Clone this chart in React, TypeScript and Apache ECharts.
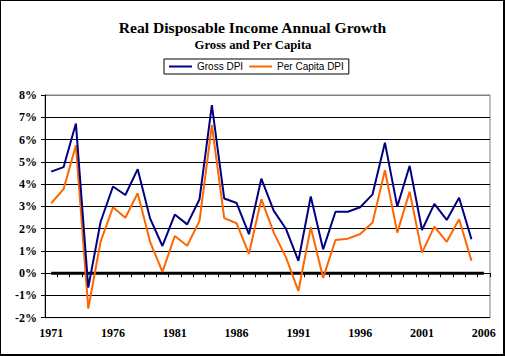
import React, { useEffect, useRef } from "react";
import * as echarts from "echarts";

const years = [
  "1971", "1972", "1973", "1974", "1975", "1976", "1977", "1978", "1979", "1980",
  "1981", "1982", "1983", "1984", "1985", "1986", "1987", "1988", "1989", "1990",
  "1991", "1992", "1993", "1994", "1995", "1996", "1997", "1998", "1999", "2000",
  "2001", "2002", "2003", "2004", "2005", "2006",
];

const grossDPI = [
  4.56, 4.76, 6.72, -0.65, 2.31, 3.89, 3.51, 4.67, 2.46, 1.22,
  2.63, 2.19, 3.32, 7.55, 3.35, 3.15, 1.75, 4.24, 2.81, 1.98,
  0.55, 3.44, 1.07, 2.76, 2.76, 2.96, 3.54, 5.86, 2.99, 4.82,
  1.94, 3.11, 2.39, 3.39, 1.52, null,
];

const perCapitaDPI = [
  3.14, 3.77, 5.74, -1.59, 1.42, 2.96, 2.49, 3.59, 1.41, 0.06,
  1.67, 1.23, 2.35, 6.65, 2.47, 2.24, 0.87, 3.32, 1.83, 0.7,
  -0.8, 2.06, -0.21, 1.49, 1.55, 1.76, 2.27, 4.62, 1.82, 3.66,
  0.92, 2.09, 1.41, 2.42, 0.56, null,
];

const zeroLine = [
  0, 0, 0, 0, 0, 0, 0, 0, 0, 0, 0, 0, 0, 0, 0, 0, 0, 0,
  0, 0, 0, 0, 0, 0, 0, 0, 0, 0, 0, 0, 0, 0, 0, 0, 0, 0,
];

const titleText = "Real Disposable Income Annual Growth";
const subtitleText = "Gross and Per Capita";
const seriesNames = ["Gross DPI", "Per Capita DPI"];

const SERIF = "'Liberation Serif', 'Times New Roman', serif";
const SANS = "'Liberation Sans', Arial, sans-serif";

export default function App() {
  const ref = useRef<HTMLDivElement>(null);

  useEffect(() => {
    if (!ref.current) return;
    const chart = echarts.init(ref.current, undefined, { renderer: "svg" });
    const splitColors = ["#000", "#000", "#000", "#000", "#000", "#000", "#000", "#000", "#000", "#000", "#808080"];
    chart.setOption({
      animation: false,
      backgroundColor: "#fff",
      textStyle: { fontFamily: SERIF },
      graphic: [
        { type: "text", x: 252.5, y: 27, style: { text: titleText, font: `bold 15.6px ${SERIF}`, fill: "#000", textAlign: "center", textVerticalAlign: "middle" } },
        { type: "text", x: 253, y: 45, style: { text: subtitleText, font: `bold 12.7px ${SERIF}`, fill: "#000", textAlign: "center", textVerticalAlign: "middle" } },
        { type: "rect", shape: { x: 0, y: 0, width: 505, height: 1 }, style: { fill: "#000" } },
        { type: "rect", shape: { x: 0, y: 0, width: 1, height: 356 }, style: { fill: "#000" } },
        { type: "rect", shape: { x: 503, y: 0, width: 2, height: 356 }, style: { fill: "#000" } },
        { type: "rect", shape: { x: 0, y: 354, width: 505, height: 2 }, style: { fill: "#000" } },
      ],
      legend: {
        data: seriesNames,
        left: 164,
        top: 59,
        padding: [2, 5, 2, 5],
        borderColor: "#000",
        borderWidth: 1,
        backgroundColor: "#fff",
        icon: "rect",
        itemWidth: 23,
        itemHeight: 2,
        itemGap: 6,
        textStyle: { fontFamily: SANS, fontSize: 10, color: "#000", lineHeight: 11 },
      },
      grid: {
        left: 45,
        right: 15,
        top: 95,
        bottom: 38.3,
        show: true,
        borderColor: "#808080",
        borderWidth: 1,
        backgroundColor: "#fff",
      },
      xAxis: {
        type: "category",
        data: years,
        boundaryGap: true,
        axisLine: { lineStyle: { color: "#000", width: 1 } },
        axisTick: { show: true, interval: 0, length: 4, lineStyle: { color: "#000" } },
        axisLabel: { interval: 4, margin: 9, fontFamily: SERIF, fontWeight: "bold", fontSize: 12, color: "#000" },
        splitLine: { show: false },
      },
      yAxis: {
        type: "value",
        min: -2,
        max: 8,
        interval: 1,
        axisLine: { show: true, lineStyle: { color: "#000", width: 1 } },
        axisTick: { show: true, length: 4, lineStyle: { color: "#000" } },
        axisLabel: { formatter: "{value}%", margin: 8, fontFamily: SERIF, fontWeight: "bold", fontSize: 12, color: "#000" },
        splitLine: { show: true, lineStyle: { color: splitColors, width: 1 } },
      },
      series: [
        {
          name: "zero",
          type: "line",
          data: zeroLine,
          symbol: "none",
          lineStyle: { color: "#000", width: 3 },
          itemStyle: { color: "#000" },
          z: 1,
        },
        {
          name: seriesNames[0],
          type: "line",
          data: grossDPI,
          symbol: "none",
          lineStyle: { color: "#000080", width: 2 },
          itemStyle: { color: "#000080" },
          z: 3,
        },
        {
          name: seriesNames[1],
          type: "line",
          data: perCapitaDPI,
          symbol: "none",
          lineStyle: { color: "#FF6600", width: 2 },
          itemStyle: { color: "#FF6600" },
          z: 2,
        },
      ],
    });
    return () => chart.dispose();
  }, []);

  return (
    <div
      ref={ref}
      style={{ position: "fixed", left: 0, top: 0, width: 505, height: 356 }}
    />
  );
}
